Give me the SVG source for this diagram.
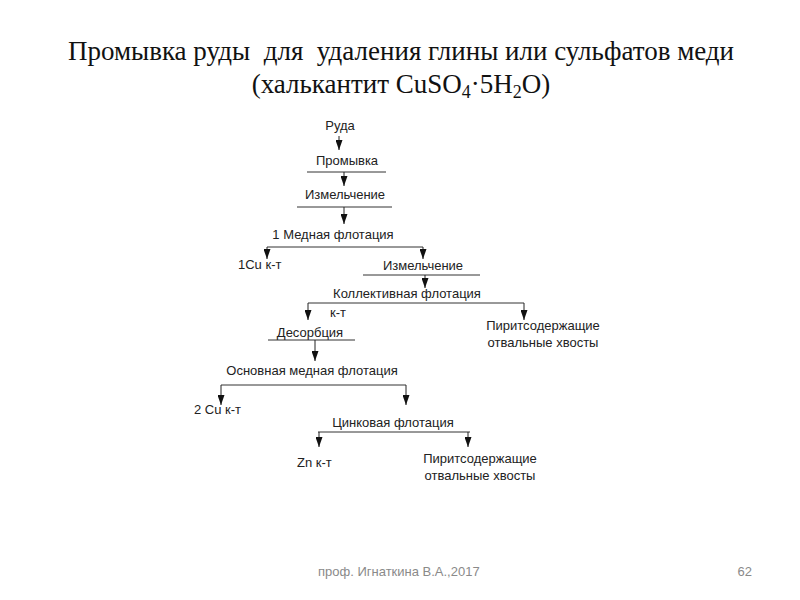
<svg xmlns="http://www.w3.org/2000/svg" width="800" height="600" viewBox="0 0 800 600">
<defs>
<marker id="ah" markerWidth="10" markerHeight="7" refX="10" refY="3.5" orient="auto" markerUnits="userSpaceOnUse" viewBox="0 0 10 7">
<path d="M0,0 L10,3.5 L0,7 Z" fill="#111"/>
</marker>
</defs>
<style>
.t{font-family:"Liberation Serif","Times New Roman",serif;font-size:27px;fill:#111;text-anchor:middle;white-space:pre}
.n{font-family:"Liberation Sans",Arial,sans-serif;font-size:13px;fill:#222}
.c{text-anchor:middle}
.ln{stroke:#333;stroke-width:1;fill:none}
.ar{stroke:#222;stroke-width:1;fill:none;marker-end:url(#ah)}
.f{font-family:"Liberation Sans",Arial,sans-serif;font-size:13px;fill:#8a8a8a}
</style>
<rect width="800" height="600" fill="#fff"/>
<g id="title">
<text class="t" x="401" y="60" xml:space="preserve">Промывка руды  для  удаления глины или сульфатов меди</text>
<text class="t" x="401" y="93">(халькантит CuSO<tspan font-size="18" dy="5">4</tspan><tspan dy="-5">·5H</tspan><tspan font-size="18" dy="5">2</tspan><tspan dy="-5">O)</tspan></text>
</g>
<g id="n-ruda"><text class="n c" x="340" y="130">Руда</text></g>
<g id="n-promyvka"><text class="n c" x="347" y="165">Промывка</text><line class="ln" x1="307" y1="172" x2="386" y2="172"/></g>
<g id="n-izm1"><text class="n c" x="345" y="199">Измельчение</text><line class="ln" x1="297" y1="207" x2="392" y2="207"/></g>
<g id="n-med1"><text class="n c" x="333" y="239">1 Медная флотация</text></g>
<g id="n-cu1"><text class="n" x="238" y="269">1Cu к-т</text></g>
<g id="n-izm2"><text class="n c" x="423" y="270">Измельчение</text><line class="ln" x1="363" y1="275" x2="480" y2="275"/></g>
<g id="n-koll"><text class="n c" x="407" y="298">Коллективная флотация</text></g>
<g id="n-kt"><text class="n" x="330" y="317">к-т</text></g>
<g id="n-desorb"><text class="n c" x="310" y="337">Десорбция</text><line class="ln" x1="268" y1="340" x2="355" y2="340"/></g>
<g id="n-pyr1"><text class="n c" x="543" y="330">Пиритсодержащие</text><text class="n c" x="543" y="347">отвальные хвосты</text></g>
<g id="n-osn"><text class="n c" x="312" y="375">Основная медная флотация</text></g>
<g id="n-cu2"><text class="n" x="194" y="414">2 Cu к-т</text></g>
<g id="n-zinc"><text class="n c" x="393" y="427">Цинковая флотация</text></g>
<g id="n-zn"><text class="n" x="297" y="467">Zn к-т</text></g>
<g id="n-pyr2"><text class="n c" x="480" y="463">Пиритсодержащие</text><text class="n c" x="480" y="480">отвальные хвосты</text></g>
<g id="connectors">
<line class="ar" x1="339" y1="136" x2="339" y2="150"/>
<line class="ar" x1="344" y1="172" x2="344" y2="186"/>
<line class="ar" x1="344" y1="207" x2="344" y2="224"/>
<path class="ln" d="M267,247 H423"/>
<line class="ar" x1="267" y1="247" x2="267" y2="259"/>
<line class="ar" x1="423" y1="247" x2="423" y2="259"/>
<line class="ar" x1="425" y1="275" x2="425" y2="288"/>
<path class="ln" d="M308,303 H524"/>
<line class="ar" x1="308" y1="303" x2="308" y2="320"/>
<line class="ar" x1="524" y1="303" x2="524" y2="320"/>
<line class="ar" x1="315" y1="340" x2="315" y2="361"/>
<path class="ln" d="M221,385 H406"/>
<line class="ar" x1="221" y1="385" x2="221" y2="405"/>
<line class="ar" x1="406" y1="385" x2="406" y2="405"/>
<path class="ln" d="M318,432 H470"/>
<line class="ar" x1="319" y1="432" x2="319" y2="447"/>
<line class="ar" x1="468" y1="432" x2="468" y2="447"/>
</g>
<g id="footer">
<text class="f" x="318" y="576">проф. Игнаткина В.А.,2017</text>
<text class="f" x="752" y="576" text-anchor="end">62</text>
</g>
</svg>
